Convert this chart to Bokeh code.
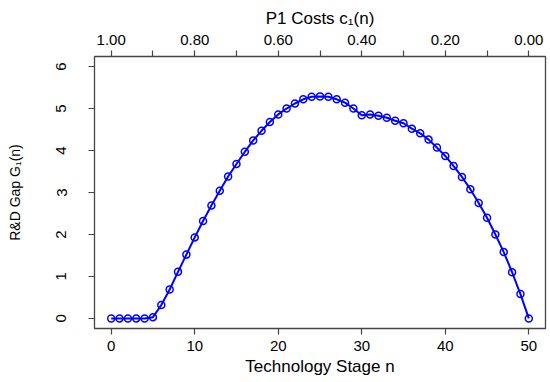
from bokeh.plotting import figure
from bokeh.models import Range1d, LinearAxis, FixedTicker
from bokeh.embed import file_html
from bokeh.resources import INLINE

# ---- data ----
stage_n = list(range(51))
rd_gap = [0, 0, 0, 0, 0, 0.03, 0.32, 0.69, 1.11, 1.52, 1.93, 2.32, 2.69, 3.04, 3.38,
          3.68, 3.97, 4.24, 4.47, 4.68, 4.86, 5.00, 5.12, 5.22, 5.28, 5.29, 5.28,
          5.22, 5.14, 5.00, 4.84, 4.86, 4.83, 4.78, 4.71, 4.65, 4.52, 4.41, 4.26,
          4.07, 3.87, 3.63, 3.37, 3.08, 2.75, 2.40, 2.00, 1.58, 1.10, 0.58, 0]
x_ticks = [0, 10, 20, 30, 40, 50]
y_ticks = [0, 1, 2, 3, 4, 5, 6]
cost_ticks = [1.0, 0.9, 0.8, 0.7, 0.6, 0.5, 0.4, 0.3, 0.2, 0.1, 0.0]
cost_labels = ["1.00", "", "0.80", "", "0.60", "", "0.40", "", "0.20", "", "0.00"]

FONT = "Liberation Sans"

p = figure(width=550, height=382, x_range=Range1d(-2, 52), y_range=Range1d(-0.24, 6.24),
           output_backend="svg", toolbar_location=None,
           min_border_left=94, min_border_right=5, min_border_top=56, min_border_bottom=54)
p.grid.visible = False
p.outline_line_color = "#444444"
p.outline_line_width = 1.3
p.background_fill_color = "white"
p.border_fill_color = "white"

bx = p.below[0]
ly = p.left[0]

p.extra_x_ranges = {"cost": Range1d(1 + 2 / 50, 1 - 52 / 50)}
top = LinearAxis(x_range_name="cost")
p.add_layout(top, "above")

for ax in [bx, ly, top]:
    ax.axis_line_color = None
    ax.major_tick_line_color = "#444444"
    ax.major_tick_line_width = 1.2
    ax.major_tick_in = 0
    ax.major_tick_out = 6
    ax.minor_tick_line_color = None
    ax.major_label_text_font = FONT
    ax.major_label_text_font_size = "15px"
    ax.major_label_text_color = "black"
    ax.axis_label_text_font = FONT
    ax.axis_label_text_font_size = "17px"
    ax.axis_label_text_font_style = "normal"
    ax.axis_label_text_color = "black"

bx.ticker = FixedTicker(ticks=x_ticks)
bx.axis_label = "Technology Stage n"
bx.major_label_standoff = 6
bx.axis_label_standoff = 3

ly.ticker = FixedTicker(ticks=y_ticks)
ly.major_label_orientation = "vertical"
ly.axis_label = "R&D Gap G\u2081(n)"
ly.axis_label_text_font_size = "14px"
ly.major_label_standoff = 22
ly.axis_label_standoff = 31

top.ticker = FixedTicker(ticks=cost_ticks)
top.major_label_overrides = {t: lab for t, lab in zip(cost_ticks, cost_labels)}
top.axis_label = "P1 Costs c\u2081(n)"
top.major_label_standoff = 6
top.axis_label_standoff = 4

p.line(stage_n, rd_gap, line_color="#0000FF", line_width=2)
p.scatter(stage_n, rd_gap, marker="circle", size=7, line_color="#0000FF",
          fill_color=None, line_width=1.5)

open("out.html", "w").write(file_html(p, INLINE))
